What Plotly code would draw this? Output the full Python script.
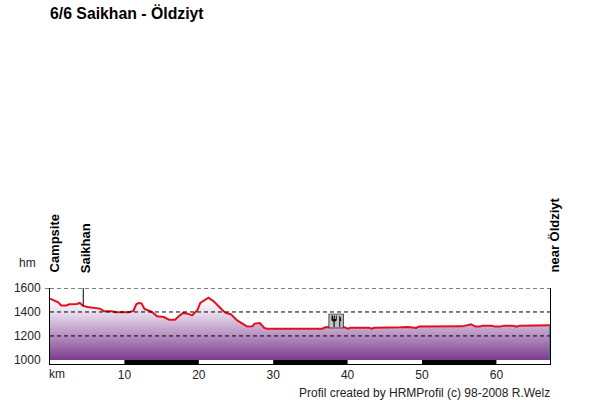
import base64
import plotly.graph_objects as go

#profile
km = [0, 0.7, 1.1, 1.5, 2.2, 2.6, 3.6, 4.0, 4.4, 5, 5.9, 6.7, 7.3, 8.3, 8.8, 10.6, 11.2, 11.6, 11.9, 12.3,
      12.7, 13.3, 13.7, 14.4, 15.3, 16, 16.8, 17.3, 17.9, 18.5, 19.1, 19.8, 20.2, 21.3, 22, 23.2, 23.6, 24.3,
      25.2, 26.1, 26.5, 27.2, 27.5, 28.2, 28.8, 29.2, 36.6, 37, 37.6, 39.6, 40, 40.4, 42.9, 43.2, 43.6, 47.1,
      48.2, 49.2, 49.6, 55.4, 56.3, 56.6, 57.2, 57.8, 58.1, 59.4, 59.8, 60.5, 61, 62.1, 62.7, 63.1, 67.2]
height = [1511, 1489, 1480, 1455, 1455, 1464, 1467, 1475, 1453, 1442, 1433, 1428, 1406, 1406, 1397, 1397, 1408,
          1464, 1475, 1472, 1425, 1406, 1400, 1364, 1358, 1336, 1336, 1364, 1392, 1386, 1372, 1414, 1475, 1519,
          1489, 1414, 1392, 1381, 1328, 1294, 1278, 1280, 1303, 1308, 1267, 1261, 1261, 1272, 1275, 1272, 1261,
          1269, 1269, 1261, 1269, 1272, 1275, 1267, 1278, 1280, 1291, 1297, 1278, 1278, 1286, 1286, 1278, 1278,
          1286, 1286, 1278, 1286, 1289]
km_ticks = [10, 20, 30, 40, 50, 60]
hm_ticks = [1000, 1200, 1400, 1600]
grid_levels = [1200, 1400, 1600]
black_km = [10, 20, None, 30, 40, None, 50, 60]
black_hm = [983, 983, None, 983, 983, None, 983, 983]
places = ["Campsite", "Saikhan", "near Öldziyt"]
place_km = [0, 4.47, 67.2]

icon = """<svg xmlns='http://www.w3.org/2000/svg' width='15' height='15' viewBox='0 0 15 15'>
<rect x='0.5' y='0.5' width='14' height='14' fill='#c4c4c4' stroke='#333'/>
<path d='M3 2v4q0 2 2 2v5.5h1.2V8q2 0 2-2V2H7.4v3.5H6.6V2H5.6v3.5H4.8V2z' fill='#111'/>
<path d='M10.5 2q2 1 2 5.5h-1v6h-1z' fill='#111'/>
</svg>"""
icon_src = "data:image/svg+xml;base64," + base64.b64encode(icon.encode()).decode()

fig = go.Figure()

#baseline for the gradient fill
fig.add_trace(go.Scatter(x=km, y=[1000] * len(km), mode="lines", line=dict(width=0), hoverinfo="skip"))
fig.add_trace(go.Scatter(
    x=km, y=height, mode="lines", fill="tonexty",
    fillgradient=dict(type="vertical", start=1000, stop=1500,
                      colorscale=[[0, "#7d3c8c"], [0.4, "#b58fc0"], [0.8, "#eadfee"], [1, "#ffffff"]]),
    line=dict(color="#e2101e", width=2),
))
#km strip along the bottom
fig.add_trace(go.Scatter(x=black_km, y=black_hm, mode="lines", line=dict(color="black", width=4)))
#place marker and teal end line
fig.add_trace(go.Scatter(x=[place_km[1], place_km[1]], y=[1600, height[8]], mode="lines",
                         line=dict(color="black", width=1)))
fig.add_trace(go.Scatter(x=[km[-1], km[-1]], y=[1000, height[-1]], mode="lines",
                         line=dict(color="#1f8a96", width=1.5)))

for level in grid_levels:
    fig.add_shape(type="line", xref="x", yref="y", x0=0, x1=km[-1], y0=level, y1=level, layer="above",
                  line=dict(color="black", width=1, dash="4px,3px"))
fig.add_shape(type="line", xref="paper", yref="y", x0=-0.01, x1=0, y0=1600, y1=1600,
              line=dict(color="black", width=1))

for name, pos, shift in zip(places, place_km, [4, 2, 4]):
    fig.add_annotation(x=pos, y=1, xref="x", yref="paper", yshift=13, xshift=shift, text="<b>" + name + "</b>",
                       textangle=-90, showarrow=False, xanchor="center", yanchor="bottom",
                       font=dict(size=13, color="black"))

fig.add_annotation(x=0, y=1, xref="paper", yref="paper", xshift=-23, yshift=25, text="hm", showarrow=False,
                   xanchor="center", yanchor="middle", font=dict(size=12, color="#222"))
fig.add_annotation(x=0, y=0, xref="paper", yref="paper", xshift=7, yshift=-10, text="km", showarrow=False,
                   xanchor="center", yanchor="middle", font=dict(size=12, color="#222"))
fig.add_annotation(x=1, y=0, xref="paper", yref="paper", xshift=2, yshift=-29,
                   text="Profil created by HRMProfil (c) 98-2008 R.Welz",
                   showarrow=False, xanchor="right", yanchor="middle", font=dict(size=12, color="#222"))

fig.add_layout_image(source=icon_src, xref="x", yref="y", x=38.45, y=1325, sizex=2.1, sizey=126,
                     xanchor="center", yanchor="middle", sizing="stretch", layer="above")

fig.update_layout(
    width=600, height=400, showlegend=False, paper_bgcolor="white", plot_bgcolor="white",
    margin=dict(l=50, r=49.5, t=288, b=36),
    font=dict(family="Liberation Sans, Arial, sans-serif", size=12, color="#222"),
    title=dict(text="<b>6/6 Saikhan - Öldziyt</b>", x=50 / 600, xanchor="left", y=1 - 13 / 400, yanchor="middle",
               font=dict(size=15.8, color="black")),
)
fig.update_xaxes(range=[0, 67.2], tickvals=km_ticks, showgrid=False, zeroline=False, showline=True,
                 linecolor="black", linewidth=1, ticks="", automargin=False)
fig.update_yaxes(range=[966, 1600], tickvals=hm_ticks, showgrid=False, zeroline=False, showline=True,
                 linecolor="black", linewidth=1, mirror=True, ticks="outside", ticklen=6, tickcolor="white",
                 automargin=False)

#drop the page's default body margin so the figure fills the window
fig.write_html("out.html", config={"displayModeBar": False}, post_script="document.body.style.margin = '0';")
